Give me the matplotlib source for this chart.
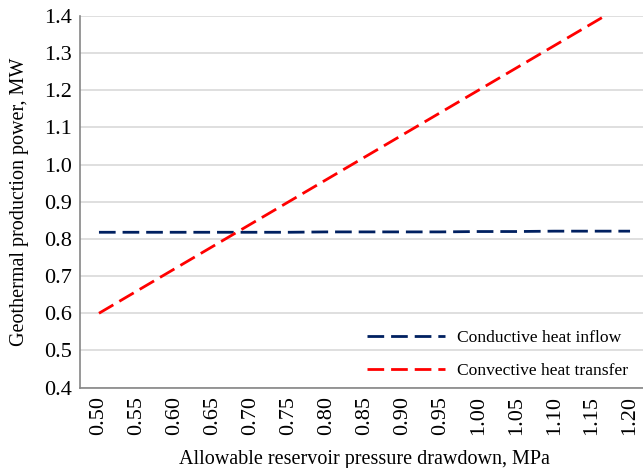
import numpy as np
import matplotlib
matplotlib.use("Agg")
import matplotlib.pyplot as plt

# allowable drawdown categories (MPa)
drawdown = ["0.50", "0.55", "0.60", "0.65", "0.70", "0.75", "0.80", "0.85",
            "0.90", "0.95", "1.00", "1.05", "1.10", "1.15", "1.20"]
# geothermal production power, MW
conductive = [0.818, 0.818, 0.818, 0.818, 0.818, 0.818, 0.819, 0.819,
              0.819, 0.819, 0.820, 0.820, 0.821, 0.821, 0.821]
convective = [0.600, 0.660, 0.720, 0.780, 0.840, 0.900, 0.960, 1.020,
              1.080, 1.140, 1.200, 1.260, 1.320, 1.380, 1.440]

plt.rcParams['font.family'] = ['Liberation Serif', 'DejaVu Serif']
plt.rcParams['lines.scale_dashes'] = False

fig = plt.figure(figsize=(6.43, 4.68), dpi=100)
ax = fig.add_axes([80/643, 80.4/468, 569/643, 371.6/468])

xs = np.arange(len(drawdown))
ax.plot(xs, conductive, color="#002060", lw=2.0, dashes=(12, 5),
        label="Conductive heat inflow")
ax.plot(xs, convective, color="#ff0000", lw=2.0, dashes=(12, 5),
        label="Convective heat transfer")

ax.set_xlim(-0.5, len(drawdown) - 0.5)
ax.set_ylim(0.4, 1.4)
ax.set_yticks(np.arange(0.4, 1.41, 0.1))
ax.set_yticklabels([f"{v:.1f}" for v in np.arange(0.4, 1.41, 0.1)], fontsize=16)
ax.set_xticks(xs)
ax.set_xticklabels(drawdown, rotation=90, fontsize=16)
ax.tick_params(length=0, pad=6)

ax.grid(axis="y", color="#d9d9d9", lw=1.2)
ax.set_axisbelow(True)
for s in ["top", "right"]:
    ax.spines[s].set_visible(False)
for s in ["left", "bottom"]:
    ax.spines[s].set_color("#868686")
    ax.spines[s].set_linewidth(1.2)

ax.set_xlabel("Allowable reservoir pressure drawdown, MPa", fontsize=14.5, labelpad=11)
ax.set_ylabel("Geothermal production power, MW", fontsize=14.5, labelpad=11)

ax.legend(loc="lower left", bbox_to_anchor=((351-80)/569, -0.02), frameon=False,
          fontsize=12.6, handlelength=4.5, labelspacing=0.95, handletextpad=0.65)

fig.savefig("out.png", dpi=100)
